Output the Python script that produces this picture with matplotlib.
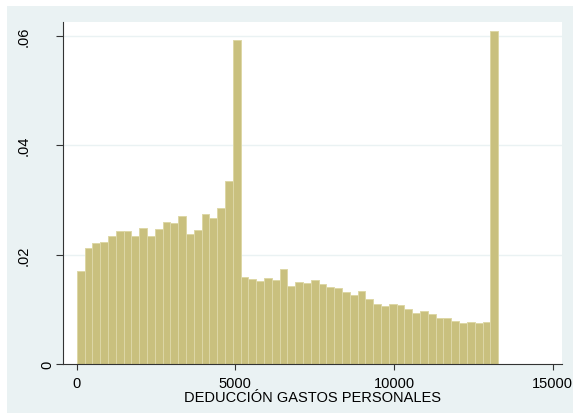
import numpy as np
import matplotlib
matplotlib.use('Agg')
import matplotlib.pyplot as plt
from matplotlib.patches import Rectangle
from matplotlib.transforms import blended_transform_factory

plt.rcParams['font.family'] = ['Liberation Sans', 'DejaVu Sans']

# histogram: density per bin, 54 bins from 0 to ~13280
bin_lo = 0
bin_hi = 13280
density = [0.01694, 0.02126, 0.02204, 0.02223, 0.02332, 0.02435, 0.02429, 0.02344,
           0.02490, 0.02332, 0.02472, 0.02599, 0.02569, 0.02696, 0.02381, 0.02453,
           0.02745, 0.02660, 0.02848, 0.03340, 0.05927,
           0.01597, 0.01555, 0.01524, 0.01567, 0.01536, 0.01743, 0.01433, 0.01500,
           0.01476, 0.01530, 0.01470, 0.01403, 0.01385, 0.01324, 0.01257, 0.01336,
           0.01184, 0.01099, 0.01063, 0.01093, 0.01075, 0.01002, 0.00929, 0.00960,
           0.00911, 0.00832, 0.00838, 0.00783, 0.00753, 0.00765, 0.00753, 0.00765,
           0.06091]
xticks = [0, 5000, 10000, 15000]
yticks = [0, 0.02, 0.04, 0.06]
ytick_labels = ['0', '.02', '.04', '.06']
xlabel = 'DEDUCCIÓN GASTOS PERSONALES'

bg = '#eaf2f3'
bar_fill = '#c9c07e'
bar_edge = '#ddd7a6'
fs = 10.5

nbins = len(density)
edges = np.linspace(bin_lo, bin_hi, nbins + 1)
width = edges[1] - edges[0]

fig = plt.figure(figsize=(5.73, 4.14), dpi=100)
fig.patch.set_facecolor('white')
# Stata-like outer panel (small white strip at left and top)
fig.patches.append(Rectangle((7 / 573, 0), 1 - 7 / 573, 1 - 7 / 414,
                             transform=fig.transFigure, facecolor=bg,
                             edgecolor='none', zorder=-10))

ax = fig.add_axes([63 / 573, 49 / 414, (562 - 63) / 573, (365 - 23) / 414])
ax.set_zorder(1)
ax.set_facecolor('white')

ax.bar(edges[:-1], density, width=width, align='edge', color=bar_fill,
       edgecolor=bar_edge, linewidth=0.7, zorder=2)

ax.set_xlim(-432, 15293)
ax.set_ylim(0, 0.0625)

for yv in yticks[1:]:
    ax.axhline(yv, color=bg, lw=1.0, zorder=1)

for s in ['top', 'right']:
    ax.spines[s].set_visible(False)
for s in ['left', 'bottom']:
    ax.spines[s].set_color('#333333')
    ax.spines[s].set_linewidth(0.8)
    ax.spines[s].set_zorder(3)

ax.set_xticks(xticks)
ax.set_xticklabels([str(v) for v in xticks], fontsize=fs)
ax.tick_params(axis='x', length=4, width=0.8, color='#333333', pad=5)
ax.set_xlabel(xlabel, fontsize=fs, labelpad=0)

ax.set_yticks(yticks)
ax.set_yticklabels([])
ax.tick_params(axis='y', length=5, width=0.8, color='#333333')
trans = blended_transform_factory(ax.transAxes, ax.transData)
axw = 562 - 63
for yv, lab in zip(yticks, ytick_labels):
    xoff = -16 if lab == '0' else -39
    ax.text(xoff / axw, yv, lab, transform=trans, rotation=90,
            ha='center', va='center', fontsize=fs)

fig.savefig('out.png', dpi=100, facecolor=fig.get_facecolor())
